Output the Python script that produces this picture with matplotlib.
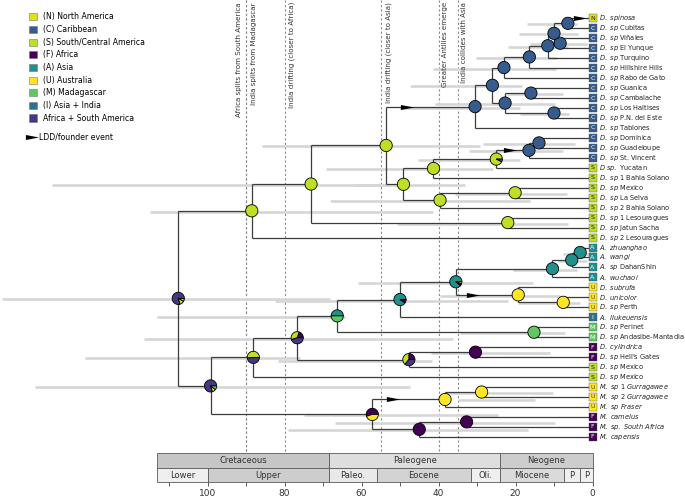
import matplotlib

matplotlib.use("Agg")
import matplotlib.pyplot as plt
from matplotlib.lines import Line2D
from matplotlib.patches import Patch, Rectangle, Wedge
from matplotlib.transforms import Affine2D, ScaledTranslation

# --- areas -----------------------------------------------------------------
area_codes = ["N", "C", "S", "F", "A", "U", "M", "I", "AS"]
area_names = [
    "(N) North America", "(C) Caribbean", "(S) South/Central America",
    "(F) Africa", "(A) Asia", "(U) Australia", "(M) Madagascar",
    "(I) Asia + India", "Africa + South America",
]
area_colors = ["#dde318", "#365c8d", "#bddf26", "#440154", "#21908d",
               "#fde725", "#5ec962", "#2c728e", "#453781"]
letter_colors = {"N": "#222222", "S": "#222222", "U": "#5a4a00"}

# --- tips (top to bottom) --------------------------------------------------
tip_area = ["N", "C", "C", "C", "C", "C", "C", "C", "C", "C", "C", "C", "C",
            "C", "C", "S", "S", "S", "S", "S", "S", "S", "S", "A", "A", "A",
            "A", "U", "U", "U", "I", "M", "M", "F", "F", "S", "S", "U", "U",
            "U", "F", "F", "F"]
tip_italic = ["D. spinosa", "D. sp", "D. sp", "D. sp", "D. sp", "D. sp",
              "D. sp", "D. sp", "D. sp", "D. sp", "D. sp", "D. sp", "D. sp",
              "D. sp", "D. sp", "D sp.", "D. sp 1", "D. sp", "D. sp",
              "D. sp 2", "D. sp 1", "D. sp", "D. sp 2", "A. zhuanghao",
              "A. wangi", "A. sp", "A. wuchaoi", "D. subrufa", "D. unicolor",
              "D. sp", "A. lIukeuensis", "D. sp", "D. sp", "D. cylindrica",
              "D. sp", "D. sp", "D. sp", "M. sp 1 Gurragawee",
              "M. sp 2 Gurragawee", "M. sp Fraser", "M. camelus",
              "M. sp. South Africa", "M. capensis"]
tip_plain = ["", "Cubitas", "Viñales", "El Yunque", "Turquino",
             "Hillshire Hills", "Rabo de Gato", "Guanica", "Cambalache",
             "Los Haitises", "P.N. del Este", "Tablones", "Dominica",
             "Guadeloupe", "St. Vincent", "Yucatan", "Bahia Solano", "Mexico",
             "La Selva", "Bahia Solano", "Lesouragues", "Jatun Sacha",
             "Lesouragues", "", "", "DahanShin", "", "", "", "Perth", "",
             "Perinet", "Andasibe-Mantadia", "", "Hell's Gates", "Mexico",
             "Mexico", "", "", "", "", "", ""]

# --- internal nodes (children listed before parents) -----------------------
node_names = ["n%d" % i for i in range(1, 43)]
node_kids = [
    (0, 1), (2, 3), ("n1", "n2"), ("n3", 4), ("n4", 5), ("n5", 6), (7, 8),
    (9, 10), ("n7", "n8"), ("n6", "n9"), ("n10", 11), (12, 13), ("n12", 14),
    ("n13", 15), ("n14", 16), (17, 18), ("n16", 19), ("n15", "n17"),
    ("n11", "n18"), (20, 21), ("n19", "n20"), ("n21", 22),
    (23, 24), ("n23", 25), ("n24", 26), (28, 29), (27, "n26"), ("n25", "n27"),
    ("n28", 30), (31, 32), ("n29", "n30"), (33, 34), ("n32", 35),
    ("n31", "n33"), ("n34", 36), (37, 38), ("n36", 39), (40, 41), ("n38", 42),
    ("n37", "n39"), ("n35", "n40"), ("n22", "n41"),
]
node_ages = [6.4, 8.4, 10.0, 11.6, 16.4, 23.0, 16.0, 10.0, 22.7, 26.0, 30.5,
             13.9, 16.5, 25.0, 41.3, 20.1, 39.6, 49.1, 53.6, 22.0, 73.1, 88.5,
             3.2, 5.4, 10.4, 7.6, 19.3, 35.5, 50.0, 15.2, 66.3, 30.4, 47.7,
             76.7, 88.1, 28.8, 38.3, 32.7, 45.0, 57.2, 99.2, 107.6]
node_hpd = [(4.0, 17.0), (1.4, 16.2), (3.8, 19.1), (6.4, 21.9), (9.2, 30.3),
            (9.5, 41.4), (7.7, 22.2), (6.1, 18.8), (9.7, 40.9), (18.3, 47.4),
            (18.8, 50.0), (4.5, 28.4), (7.7, 32.1), (18.8, 45.3), (25.8, 69.2),
            (6.6, 35.7), (16.2, 68.2), (33.1, 62.0), (29.2, 85.8), (6.4, 50.8),
            (52.6, 140.4), (41.4, 115.0),
            (0.6, 7.7), (1.5, 9.0), (4.0, 20.6), (3.2, 19.4), (8.4, 39.6),
            (15.5, 61.0), (22.0, 82.5), (7.1, 34.4), (64.3, 113.0),
            (11.0, 42.0), (41.7, 81.7), (36.2, 116.5), (76.0, 131.8),
            (10.3, 38.3), (15.0, 35.0), (9.7, 67.0), (16.8, 79.0),
            (24.5, 75.0), (47.4, 144.8), (68.2, 153.4)]
node_probs = [
    [("C", 1)], [("C", 1)], [("C", 1)], [("C", 1)], [("C", 1)], [("C", 1)],
    [("C", 1)], [("C", 1)], [("C", 1)], [("C", 1)], [("C", 1)], [("C", 1)],
    [("C", 1)], [("S", 0.93), ("C", 0.07)], [("S", 1)], [("S", 1)],
    [("S", 1)], [("S", 1)], [("S", 1)], [("S", 1)], [("S", 1)], [("S", 1)],
    [("A", 1)], [("A", 1)], [("A", 1)], [("U", 1)], [("U", 1)],
    [("A", 0.89), ("F", 0.06), ("U", 0.05)], [("A", 0.91), ("F", 0.09)],
    [("M", 1)], [("A", 0.5), ("M", 0.5)], [("F", 1)],
    [("F", 0.25), ("S", 0.39), ("AS", 0.36)],
    [("F", 0.2), ("S", 0.35), ("AS", 0.45)], [("S", 0.52), ("AS", 0.48)],
    [("U", 1)], [("U", 1)], [("F", 1)], [("F", 1)], [("F", 0.55), ("U", 0.45)],
    [("AS", 0.8), ("S", 0.1), ("M", 0.1)],
    [("AS", 0.8), ("S", 0.12), ("M", 0.08)],
]

# long distance dispersal arrows: branch (child) and age along it
ldd_child = [0, "n11", "n13", "n27", "n37"]
ldd_age = [3.2, 48.3, 21.4, 31.0, 51.8]

# geological events
event_ages = [90, 90, 80, 55, 40, 35]
event_labels = ["Africa splits from South America", "India splits from Madagascar",
                "India drifting (closer to Africa)", "India drifting (closer to Asia)",
                "Greater Antilles emerge", "India collides with Asia"]
event_offsets = [-5.4, 5.4, 5.4, 5.4, 4.6, 4.8]

# geological time scale
period_names = ["Cretaceous", "Paleogene", "Neogene"]
period_bounds = [(113, 68.4), (68.4, 24), (24, 0)]
epoch_names = ["Lower", "Upper", "Paleo.", "Eocene", "Oli.", "Miocene", "P", "P"]
epoch_bounds = [(113, 100), (100, 68.4), (68.4, 56), (56, 31.6), (31.6, 24),
                (24, 7.4), (7.4, 3.2), (3.2, 0)]
period_colors = ["#c6c6c6", "#dedede", "#cdcdcd"]
epoch_colors = ["#efefef", "#cdcdcd", "#e9e9e9", "#d3d3d3", "#efefef",
                "#dadada", "#efefef", "#efefef"]

color_of = dict(zip(area_codes, area_colors))

fig = plt.figure(figsize=(6.85, 5.01), dpi=100)
ax = fig.add_axes([0, 19.3 / 501, 592.5 / 685, 481.7 / 501])
ax.set_xlim(153.9, 0)
ax.set_ylim(46.5, -1.84)
for sp in ax.spines.values():
    sp.set_visible(False)
ax.set_yticks([])

# positions
ypos = {i: float(i) for i in range(len(tip_area))}
xpos = {i: 0.0 for i in range(len(tip_area))}
for name, (a, b), age in zip(node_names, node_kids, node_ages):
    ypos[name] = (ypos[a] + ypos[b]) / 2
    xpos[name] = age

line_kw = dict(color="#3c3c3c", lw=0.9, solid_capstyle="butt", zorder=3)

# event lines and labels
scale_top = 43.6
for age, label, off in zip(event_ages, event_labels, event_offsets):
    ax.plot([age, age], [-1.84, scale_top], color="#8a8a8a", lw=0.8,
            dashes=(2, 2), zorder=0)
    ax.annotate(label, xy=(age, 1), xycoords=("data", "axes fraction"),
                xytext=(off, -1.5), textcoords="offset points", rotation=90,
                ha="center", va="top", fontsize=5.1, color="#333333")

# HPD bars
for name, (lo, hi) in zip(node_names, node_hpd):
    ax.plot([hi, lo], [ypos[name] + 0.1] * 2, color="#d6d6d6", lw=1.9,
            solid_capstyle="butt", zorder=1)

# branches
for name, (a, b) in zip(node_names, node_kids):
    x = xpos[name]
    ax.plot([x, x], [ypos[a], ypos[b]], **line_kw)
    for k in (a, b):
        ax.plot([x, xpos[k]], [ypos[k], ypos[k]], **line_kw)

# ancestral range pies
pie_r = 4.4  # points
for name, probs in zip(node_names, node_probs):
    tr = (Affine2D().scale(pie_r / 72) + fig.dpi_scale_trans
          + ScaledTranslation(xpos[name], ypos[name], ax.transData))
    start = 0.0
    for area, frac in probs:
        ax.add_patch(Wedge((0, 0), 1, start * 360, (start + frac) * 360,
                           transform=tr, facecolor=color_of[area],
                           edgecolor="black", lw=0.6, zorder=5))
        start += frac

# LDD arrows
arrow = [(-1, -0.38), (1, 0), (-1, 0.38)]
for child, age in zip(ldd_child, ldd_age):
    ax.plot(age, ypos[child], marker=arrow, markersize=9.5, color="black",
            markeredgewidth=0, zorder=6, clip_on=False)

# tip boxes and labels
for i, (area, ital, plain) in enumerate(zip(tip_area, tip_italic, tip_plain)):
    ax.plot(0, i, marker="s", markersize=6.1, color=color_of[area],
            markeredgecolor="#555555", markeredgewidth=0.3, clip_on=False,
            zorder=6)
    ax.annotate(area, xy=(0, i), ha="center", va="center", fontsize=4.6,
                color=letter_colors.get(area, "white"), zorder=7,
                annotation_clip=False)
    label = r"$\mathit{%s}$" % ital.replace(" ", r"\ ")
    if plain:
        label += " " + plain
    ax.annotate(label, xy=(0, i), xytext=(5.0, 0), textcoords="offset points",
                ha="left", va="center", fontsize=4.75, color="#222222",
                annotation_clip=False)

# time scale
rows = [(43.6, 45.1, period_names, period_bounds, period_colors),
        (45.1, 46.5, epoch_names, epoch_bounds, epoch_colors)]
for y0, y1, names, bounds, cols in rows:
    for nm, (old, young), c in zip(names, bounds, cols):
        ax.add_patch(Rectangle((young, y0), old - young, y1 - y0, facecolor=c,
                               edgecolor="#5a5a5a", lw=0.6, zorder=2,
                               clip_on=False))
        ax.text((old + young) / 2, (y0 + y1) / 2 + 0.05, nm, ha="center",
                va="center", fontsize=6, color="#333333")

ax.set_xticks([100, 80, 60, 40, 20, 0])
ax.set_xticks(range(0, 111, 10), minor=True)
ax.tick_params(axis="x", which="both", direction="out", length=3.2, width=0.6,
               color="#444444", labelsize=6.5, labelcolor="#333333", pad=2)

# legend
handles = [Patch(facecolor=c, edgecolor="#777777", lw=0.4) for c in area_colors]
fig.legend(handles, area_names, loc="upper left",
           bbox_to_anchor=(29 / 685, 1 - 12.5 / 501), frameon=False, fontsize=5.6,
           handlelength=1.05, handleheight=1.05, handletextpad=0.75,
           labelspacing=0.47, borderpad=0, borderaxespad=0)
ldd_handle = Line2D([], [], color="black", marker=arrow, markersize=9.5,
                    linestyle="none", markeredgewidth=0)
fig.legend([ldd_handle], ["LDD/founder event"], loc="upper left",
           bbox_to_anchor=(26 / 685, 1 - 133 / 501), frameon=False,
           fontsize=5.6, handlelength=1.6, handletextpad=0.1, borderpad=0,
           borderaxespad=0)

fig.savefig("out.png", dpi=100)
